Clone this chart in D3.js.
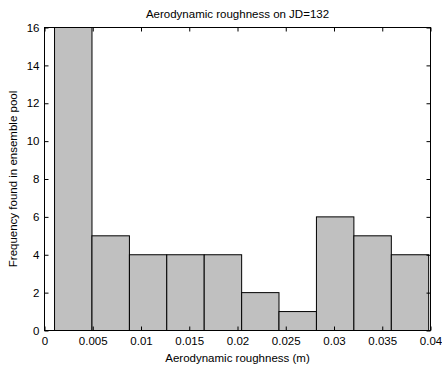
<!DOCTYPE html>
<html>
<head>
<meta charset="utf-8">
<script src="https://cdn.jsdelivr.net/npm/d3@7"></script>
<style>
  html, body { margin: 0; padding: 0; background: #fff; }
  svg { display: block; }
  text { font-family: "Liberation Sans", Arial, sans-serif; fill: #000; }
</style>
</head>
<body>
<div id="chart"></div>
<script>
// Histogram bin edges (m) and counts per bin
const binEdges = [0.00104, 0.00492, 0.00880, 0.01267, 0.01655, 0.02043,
                  0.02430, 0.02818, 0.03206, 0.03594, 0.03981];
const counts = [16, 5, 4, 4, 4, 2, 1, 6, 5, 4];
const xTicks = [0, 0.005, 0.01, 0.015, 0.02, 0.025, 0.03, 0.035, 0.04];
const xTickLabels = ["0", "0.005", "0.01", "0.015", "0.02", "0.025", "0.03", "0.035", "0.04"];
const yTicks = [0, 2, 4, 6, 8, 10, 12, 14, 16];

const W = 442, H = 370;
const m = { left: 44.5, right: 11.5, top: 27.5, bottom: 39.5 };
const pw = W - m.left - m.right, ph = H - m.top - m.bottom;

const svg = d3.select("#chart").append("svg").attr("width", W).attr("height", H);

const x = d3.scaleLinear().domain([0, 0.04]).range([m.left, m.left + pw]);
const y = d3.scaleLinear().domain([0, 16]).range([m.top + ph, m.top]);

const bins = counts.map((c, i) => ({ x0: binEdges[i], x1: binEdges[i + 1], c }));

// Bars
svg.append("g").selectAll("rect").data(bins).join("rect")
  .attr("x", d => x(d.x0))
  .attr("width", d => x(d.x1) - x(d.x0))
  .attr("y", d => y(d.c))
  .attr("height", d => y(0) - y(d.c))
  .attr("fill", "#c0c0c0")
  .attr("stroke", "#000")
  .attr("stroke-width", 1);

// Axes with inward ticks on all four sides
const fontSize = 11.5;
function styleAxis(g) {
  g.select(".domain").remove();
  g.selectAll("line").attr("stroke", "#000");
  g.selectAll("text").attr("font-size", fontSize).attr("font-family", "Liberation Sans, Arial, sans-serif");
}

svg.append("g").attr("transform", `translate(0,${y(0)})`)
  .call(d3.axisBottom(x).tickValues(xTicks).tickFormat((d, i) => xTickLabels[i])
    .tickSizeInner(-4).tickSizeOuter(0).tickPadding(6))
  .call(styleAxis);

svg.append("g").attr("transform", `translate(0,${y(16)})`)
  .call(d3.axisTop(x).tickValues(xTicks).tickFormat("")
    .tickSizeInner(-4).tickSizeOuter(0))
  .call(styleAxis);

svg.append("g").attr("transform", `translate(${x(0)},0)`)
  .call(d3.axisLeft(y).tickValues(yTicks).tickFormat(d3.format("d"))
    .tickSizeInner(-4).tickSizeOuter(0).tickPadding(5))
  .call(styleAxis);

svg.append("g").attr("transform", `translate(${x(0.04)},0)`)
  .call(d3.axisRight(y).tickValues(yTicks).tickFormat("")
    .tickSizeInner(-4).tickSizeOuter(0))
  .call(styleAxis);

// Plot frame
svg.append("rect")
  .attr("x", x(0)).attr("y", y(16))
  .attr("width", x(0.04) - x(0)).attr("height", y(0) - y(16))
  .attr("fill", "none").attr("stroke", "#000").attr("stroke-width", 1);

// Title and axis labels
svg.append("text")
  .attr("x", m.left + pw / 2).attr("y", 18)
  .attr("text-anchor", "middle").attr("font-size", fontSize)
  .text("Aerodynamic roughness on JD=132");

svg.append("text")
  .attr("x", m.left + pw / 2).attr("y", 362)
  .attr("text-anchor", "middle").attr("font-size", fontSize)
  .text("Aerodynamic roughness (m)");

svg.append("text")
  .attr("transform", `translate(17,${m.top + ph / 2}) rotate(-90)`)
  .attr("text-anchor", "middle").attr("font-size", fontSize)
  .text("Frequency found in ensemble pool");
</script>
</body>
</html>
